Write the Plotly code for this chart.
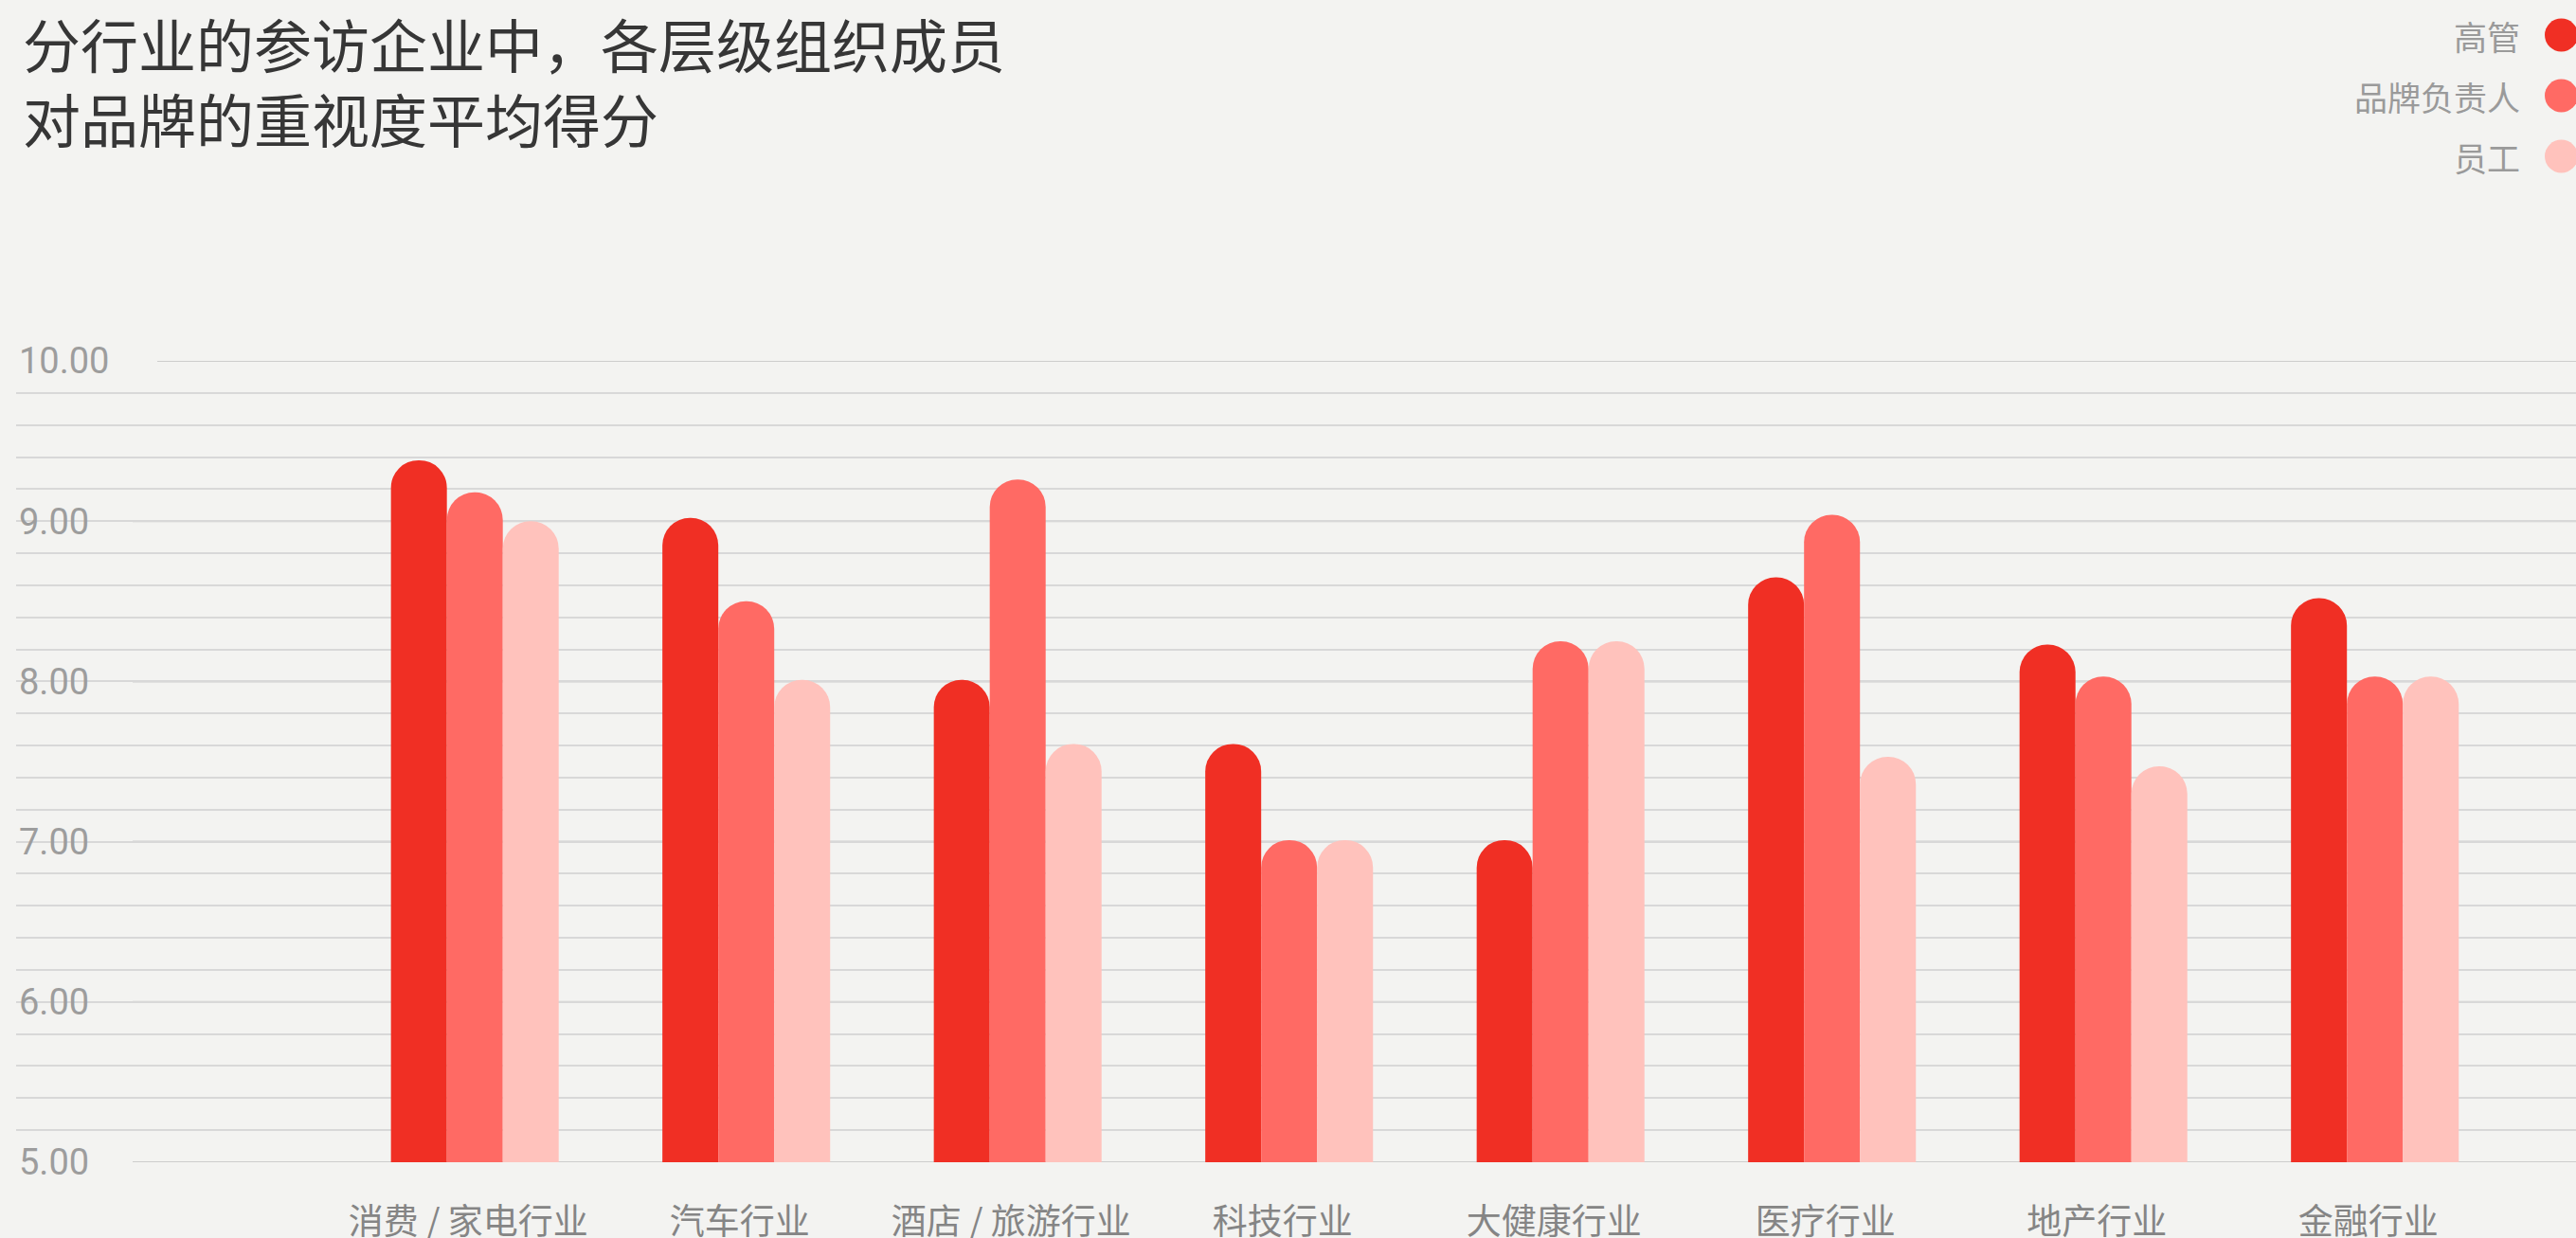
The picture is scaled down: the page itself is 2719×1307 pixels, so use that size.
import plotly.graph_objects as go

# Industry categories (x axis)
categories = ["消费 / 家电行业", "汽车行业", "酒店 / 旅游行业", "科技行业",
              "大健康行业", "医疗行业", "地产行业", "金融行业"]

# Average scores per organisational level
series_names = ["高管", "品牌负责人", "员工"]
exec_scores = [9.38, 9.02, 8.01, 7.61, 7.01, 8.65, 8.23, 8.52]
brand_lead_scores = [9.18, 8.50, 9.26, 7.01, 8.25, 9.04, 8.03, 8.03]
staff_scores = [9.00, 8.01, 7.61, 7.01, 8.25, 7.53, 7.47, 8.03]

# Y axis ticks
y_ticks = [5, 6, 7, 8, 9, 10]
y_tick_labels = ["5.00", "6.00", "7.00", "8.00", "9.00", "10.00"]

title_text = "分行业的参访企业中，各层级组织成员<br>对品牌的重视度平均得分"

colors = ["#F02F24", "#FF6A64", "#FFC2BC"]
bg = "#F3F3F1"

W, H = 2719, 1307
ML, MR, MT, MB = 17, 0, 381, 80
plot_w = W - ML - MR
plot_h = H - MT - MB

fig = go.Figure()
for name, vals, col in zip(series_names,
                           [exec_scores, brand_lead_scores, staff_scores],
                           colors):
    fig.add_trace(go.Bar(
        x=categories, y=vals, name=name,
        marker=dict(color=col, line=dict(width=0), cornerradius="50%"),
        showlegend=False,
    ))

# Major gridlines start to the right of their tick label
for v, lab in zip(y_ticks, y_tick_labels):
    start_px = 36 + 26 * len(lab)
    fig.add_shape(type="line", xref="paper", yref="y",
                  x0=(start_px - ML) / plot_w, x1=1, y0=v, y1=v,
                  line=dict(color="#CDCDCD", width=2), layer="below")

# Legend: right-aligned labels with round swatches on the right
legend_y = [37, 101, 165]
for name, col, cy in zip(series_names, colors, legend_y):
    ya = (H - MB - cy) / plot_h
    fig.add_annotation(text=name, xref="paper", yref="paper",
                       x=(2662 - ML) / plot_w, y=ya, xanchor="right", yanchor="middle",
                       showarrow=False,
                       font=dict(family="Noto Sans CJK SC", size=35, color="#9A9A9A"))
    fig.add_shape(type="circle", xref="paper", yref="paper",
                  xsizemode="pixel", ysizemode="pixel",
                  xanchor=(2703.5 - ML) / plot_w, yanchor=ya,
                  x0=-17.5, x1=17.5, y0=-17.5, y1=17.5,
                  fillcolor=col, line=dict(width=0))

fig.update_layout(
    width=W, height=H,
    margin=dict(l=ML, r=MR, t=MT, b=MB, pad=0, autoexpand=False),
    paper_bgcolor=bg, plot_bgcolor=bg,
    barmode="group", bargap=0.382, bargroupgap=0,
    title=dict(text=title_text, x=24 / W, xanchor="left", xref="container",
               y=1 - 72 / H, yanchor="top", yref="container", automargin=False,
               font=dict(family="Noto Sans CJK SC", size=61, color="#363636")),
    xaxis=dict(range=[-1.690, 7.741], showgrid=False, zeroline=False,
               showline=False, ticks="", ticklabelstandoff=38, ticklabelshift=-7,
               automargin=False,
               tickfont=dict(family="Noto Sans CJK SC", size=37, color="#858585")),
    yaxis=dict(range=[5, 10], tickvals=y_ticks, ticktext=y_tick_labels,
               showgrid=False, zeroline=False, showline=False, ticks="",
               ticklabelposition="inside", ticklabelstandoff=0,
               ticklabeloverflow="allow", automargin=False,
               tickfont=dict(family="Roboto", size=38, color="#9D9D9D"),
               minor=dict(dtick=0.2, showgrid=True, gridcolor="#D8D8D8",
                          gridwidth=1.5)),
    font=dict(family="Noto Sans CJK SC"),
)

fig.write_html("out.html")
